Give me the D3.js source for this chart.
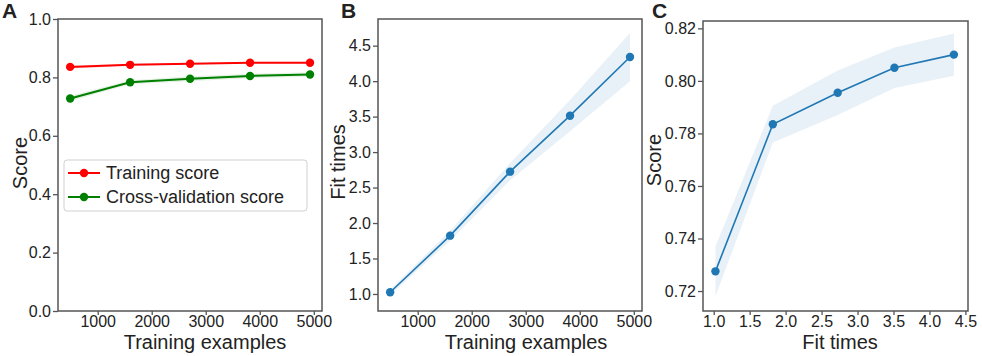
<!DOCTYPE html>
<html>
<head>
<meta charset="utf-8">
<script src="https://cdn.jsdelivr.net/npm/d3@7"></script>
<style>
  body { margin: 0; background: #fff; }
  svg text { font-family: "Liberation Sans", Arial, sans-serif; fill: #222; }
</style>
</head>
<body>
<div id="wrapper"></div>
<script>
const RED = "#ff0000";
const GREEN = "#008000";
const BLUE = "#1f77b4";
const FRAME_COLOR = "#555";

const trainSizes = [490, 1600, 2710, 3820, 4930];
const trainScore = [0.836, 0.843, 0.847, 0.850, 0.850];
const trainStd = [0.006, 0.003, 0.002, 0.002, 0.002];
const cvScore = [0.7275, 0.7835, 0.7955, 0.8050, 0.8100];
const cvStd = [0.0095, 0.0070, 0.0085, 0.0077, 0.0080];
const fitTimes = [1.024, 1.822, 2.724, 3.513, 4.340];
const fitStd = [0.04, 0.07, 0.12, 0.22, 0.34];

const sizeTicks = [1000, 2000, 3000, 4000, 5000];
const scoreTicksA = [0, 0.2, 0.4, 0.6, 0.8, 1.0];
const fitTicks = [1.0, 1.5, 2.0, 2.5, 3.0, 3.5, 4.0, 4.5];
const scoreTicksC = [0.72, 0.74, 0.76, 0.78, 0.80, 0.82];

const legendLabels = ["Training score", "Cross-validation score"];

const svg = d3.select("#wrapper")
  .append("svg")
  .attr("width", 982)
  .attr("height", 356);

function drawPanel(p) {
  const g = svg.append("g");

  const x = d3.scaleLinear().domain(p.xDomain).range([p.left, p.right]);
  const y = d3.scaleLinear().domain(p.yDomain).range([p.bottom, p.top]);

  // shaded bands, then lines + markers
  p.series.forEach(s => {
    const pts = s.xs.map((xv, i) => ({ x: xv, y: s.ys[i], e: s.err[i] }));
    const area = d3.area()
      .x(d => x(d.x))
      .y0(d => y(d.y - d.e))
      .y1(d => y(d.y + d.e));
    g.append("path")
      .datum(pts)
      .attr("d", area)
      .attr("fill", s.color)
      .attr("fill-opacity", 0.1);

    const line = d3.line().x(d => x(d.x)).y(d => y(d.y));
    g.append("path")
      .datum(pts)
      .attr("d", line)
      .attr("fill", "none")
      .attr("stroke", s.color)
      .attr("stroke-width", s.width);

    g.selectAll(null)
      .data(pts)
      .enter().append("circle")
      .attr("cx", d => x(d.x))
      .attr("cy", d => y(d.y))
      .attr("r", 4.2)
      .attr("fill", s.color);
  });

  const xAxis = g.append("g")
    .attr("transform", `translate(0,${p.bottom})`)
    .call(d3.axisBottom(x).tickValues(p.xTicks).tickFormat(p.xFormat).tickSizeOuter(0).tickSize(4).tickPadding(1));
  const yAxis = g.append("g")
    .attr("transform", `translate(${p.left},0)`)
    .call(d3.axisLeft(y).tickValues(p.yTicks).tickFormat(p.yFormat).tickSizeOuter(0).tickSize(5).tickPadding(2));

  [xAxis, yAxis].forEach(ax => {
    ax.select(".domain").remove();
    ax.selectAll(".tick line").attr("stroke", FRAME_COLOR).attr("stroke-width", 1.3);
    ax.selectAll(".tick text")
      .style("font-size", "16px")
      .style("font-family", "'Liberation Sans', Arial, sans-serif")
      .attr("fill", "#222");
  });

  // frame
  g.append("rect")
    .attr("x", p.left)
    .attr("y", p.top)
    .attr("width", p.right - p.left)
    .attr("height", p.bottom - p.top)
    .attr("fill", "none")
    .attr("stroke", FRAME_COLOR)
    .attr("stroke-width", 1.5);

  g.append("text")
    .attr("x", p.xTitleX)
    .attr("y", 349)
    .attr("text-anchor", "middle")
    .style("font-size", "20px")
    .text(p.xTitle);

  g.append("text")
    .attr("transform", `translate(${p.yTitleX},${p.yTitleY}) rotate(-90)`)
    .attr("text-anchor", "middle")
    .style("font-size", "20px")
    .text(p.yTitle);

  g.append("text")
    .attr("x", p.letterX)
    .attr("y", 18)
    .style("font-size", "21px")
    .style("font-weight", "bold")
    .attr("fill", "#111")
    .text(p.letter);

  return { g, x, y };
}

const panelA = drawPanel({
  letter: "A", letterX: 2,
  left: 58, right: 322, top: 19, bottom: 311,
  xDomain: [265, 5152], yDomain: [0, 1],
  xTicks: sizeTicks, yTicks: scoreTicksA,
  xFormat: d3.format("d"), yFormat: d3.format(".1f"),
  xTitle: "Training examples", xTitleX: 205,
  yTitle: "Score", yTitleX: 27, yTitleY: 163,
  series: [
    { xs: trainSizes, ys: trainScore, err: trainStd, color: RED, width: 2 },
    { xs: trainSizes, ys: cvScore, err: cvStd, color: GREEN, width: 2 }
  ]
});

drawPanel({
  letter: "B", letterX: 341,
  left: 378, right: 642, top: 19, bottom: 311,
  xDomain: [265, 5152], yDomain: [0.76, 4.876],
  xTicks: sizeTicks, yTicks: fitTicks,
  xFormat: d3.format("d"), yFormat: d3.format(".1f"),
  xTitle: "Training examples", xTitleX: 526,
  yTitle: "Fit times", yTitleX: 345, yTitleY: 162,
  series: [
    { xs: trainSizes, ys: fitTimes, err: fitStd, color: BLUE, width: 1.6 }
  ]
});

drawPanel({
  letter: "C", letterX: 652,
  left: 703, right: 968, top: 21, bottom: 311,
  xDomain: [0.851, 4.536], yDomain: [0.7124, 0.8228],
  xTicks: fitTicks, yTicks: scoreTicksC,
  xFormat: d3.format(".1f"), yFormat: d3.format(".2f"),
  xTitle: "Fit times", xTitleX: 840,
  yTitle: "Score", yTitleX: 661, yTitleY: 160,
  series: [
    { xs: fitTimes, ys: cvScore, err: cvStd, color: BLUE, width: 1.6 }
  ]
});

// legend in panel A
const legend = panelA.g.append("g").attr("transform", "translate(64,160)");
legend.append("rect")
  .attr("width", 243)
  .attr("height", 51)
  .attr("rx", 3)
  .attr("fill", "#fff")
  .attr("fill-opacity", 0.85)
  .attr("stroke", "#d0d0d0");

const legendColors = [RED, GREEN];
const rows = legend.selectAll(".row")
  .data(legendLabels)
  .enter().append("g")
  .attr("transform", (d, i) => `translate(0,${13 + i * 24})`);
rows.append("line")
  .attr("x1", 4).attr("x2", 36)
  .attr("stroke", (d, i) => legendColors[i])
  .attr("stroke-width", 2);
rows.append("circle")
  .attr("cx", 20).attr("r", 4.2)
  .attr("fill", (d, i) => legendColors[i]);
rows.append("text")
  .attr("x", 42)
  .attr("dy", "0.35em")
  .style("font-size", "18px")
  .text(d => d);
</script>
</body>
</html>
